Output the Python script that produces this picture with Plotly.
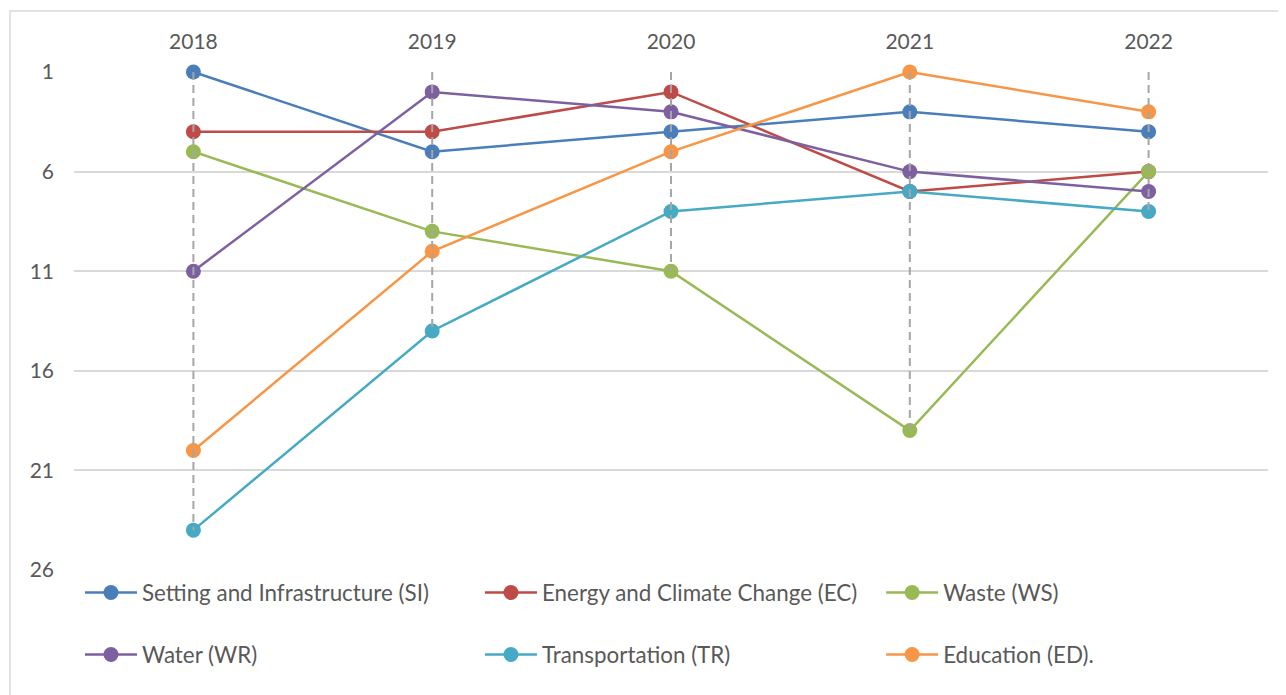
import plotly.graph_objects as go

years = ["2018", "2019", "2020", "2021", "2022"]
series_names = [
    "Setting and Infrastructure (SI)",
    "Energy and Climate Change (EC)",
    "Waste (WS)",
    "Water (WR)",
    "Transportation (TR)",
    "Education (ED).",
]
si = [1, 5, 4, 3, 4]
ec = [4, 4, 2, 7, 6]
ws = [5, 9, 11, 19, 6]
wr = [11, 2, 3, 6, 7]
tr = [24, 14, 8, 7, 8]
ed = [20, 10, 5, 1, 3]
y_ticks = [1, 6, 11, 16, 21, 26]

colors = ["#4A7EBB", "#BE4B48", "#98B954", "#7D60A0", "#46AAC5", "#F79646"]
all_series = [si, ec, ws, wr, tr, ed]

FONT = "Lato"
TXT = "#595959"
FS = 22.4

legend_ids = ["legend", "legend2", "legend3", "legend4", "legend5", "legend6"]
col_x = [0.005, 0.340, 0.676]
row_y = [-0.044, -0.168]

fig = go.Figure()
for i, (name, vals, col) in enumerate(zip(series_names, all_series, colors)):
    fig.add_trace(go.Scatter(
        x=years, y=vals, name=name, mode="lines+markers",
        line=dict(color=col, width=2.5),
        marker=dict(color=col, size=15),
        cliponaxis=False,
        legend=legend_ids[i],
    ))

# drop lines from each category's lowest-ranked point up to the axis (rank 1)
for yr, vals in zip(years, zip(*all_series)):
    fig.add_trace(go.Scatter(
        x=[yr, yr], y=[y_ticks[0], max(vals)], mode="lines",
        line=dict(color="#A6A6A6", width=2, dash="8px,5px"),
        showlegend=False, hoverinfo="skip", cliponaxis=False,
    ))

legend_layouts = {}
for i, lid in enumerate(legend_ids):
    legend_layouts[lid] = dict(
        orientation="h", x=col_x[i % 3], xanchor="left",
        y=row_y[i // 3], yanchor="middle", itemwidth=52,
        font=dict(family=FONT, size=FS, color=TXT), bgcolor="rgba(0,0,0,0)",
    )

# the page body adds an 8px offset, so margins are shifted by 8px
fig.update_layout(
    width=1286, height=695,
    margin=dict(l=66, r=26, t=63, b=132, autoexpand=False),
    paper_bgcolor="white", plot_bgcolor="white",
    font=dict(family=FONT, size=FS, color=TXT),
    xaxis=dict(side="top", showgrid=False, showline=False, zeroline=False,
               range=[-0.5, 4.5], ticks="", ticklabelstandoff=17,
               tickfont=dict(family=FONT, size=21, color=TXT)),
    yaxis=dict(range=[26.05, 0.95], tickvals=y_ticks, showgrid=True,
               gridcolor="#D9D9D9", gridwidth=2, zeroline=False, showline=False,
               ticks="", ticklabelstandoff=19,
               tickfont=dict(family=FONT, size=21, color=TXT)),
    shapes=[dict(type="rect", xref="paper", yref="paper",
                 x0=-0.0536, x1=1.1, y0=-0.5, y1=1.12,
                 line=dict(color="#D9D9D9", width=1.5), fillcolor="rgba(0,0,0,0)",
                 layer="below")],
    showlegend=True,
    **legend_layouts,
)

fig.write_html("out.html")
